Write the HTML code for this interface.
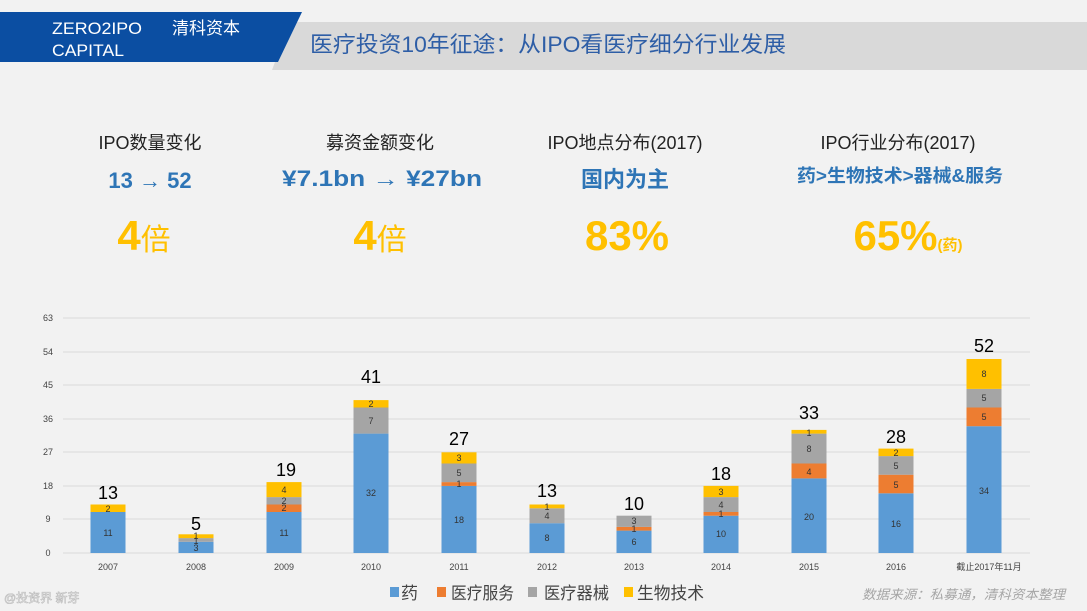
<!DOCTYPE html>
<html><head><meta charset="utf-8"><style>
html,body{margin:0;padding:0;background:#f2f2f2;}
svg{display:block;font-family:"Liberation Sans","Noto Sans CJK SC",sans-serif;}
.bl{font-size:9px;fill:#333;text-anchor:middle}
.tot{font-size:18px;fill:#000;text-anchor:middle}
.ax{font-size:9px;fill:#444;text-anchor:middle}
</style></head><body>
<svg width="1087" height="611" viewBox="0 0 1087 611">
<rect width="1087" height="611" fill="#f2f2f2"/>
<polygon points="290,22 1087,22 1087,70 272,70" fill="#d9d9d9"/>
<polygon points="0,12 302,12 278,62 0,62" fill="#0b4ea2"/>
<text x="52" y="34" font-size="17" fill="#fff" textLength="90" lengthAdjust="spacingAndGlyphs">ZERO2IPO</text>
<text x="172" y="34" font-size="17" fill="#fff">清科资本</text>
<text x="52" y="56" font-size="17" fill="#fff" textLength="72" lengthAdjust="spacingAndGlyphs">CAPITAL</text>
<text x="310" y="52" font-size="22" fill="#2e5ea6" textLength="476" lengthAdjust="spacingAndGlyphs">医疗投资10年征途：从IPO看医疗细分行业发展</text>

<g text-anchor="middle">
<text x="150" y="149" font-size="18" fill="#222">IPO数量变化</text>
<text x="380" y="149" font-size="18" fill="#222">募资金额变化</text>
<text x="625" y="149" font-size="18" fill="#222">IPO地点分布(2017)</text>
<text x="898" y="149" font-size="18" fill="#222">IPO行业分布(2017)</text>
<text x="150" y="188" font-size="22" font-weight="bold" fill="#2e75b6">13 → 52</text>
<text x="382" y="186" font-size="22" font-weight="bold" fill="#2e75b6" textLength="200" lengthAdjust="spacingAndGlyphs">¥7.1bn → ¥27bn</text>
<text x="625" y="187" font-size="22" font-weight="bold" fill="#2e75b6">国内为主</text>
<text x="900" y="182" font-size="18" font-weight="bold" fill="#2e75b6" textLength="206" lengthAdjust="spacingAndGlyphs">药&gt;生物技术&gt;器械&amp;服务</text>
<text x="144" y="250" font-size="42" font-weight="bold" fill="#ffc000">4<tspan font-size="30" font-weight="normal">倍</tspan></text>
<text x="380" y="250" font-size="42" font-weight="bold" fill="#ffc000">4<tspan font-size="30" font-weight="normal">倍</tspan></text>
<text x="627" y="250" font-size="42" font-weight="bold" fill="#ffc000">83%</text>
<text x="908" y="250" font-size="42" font-weight="bold" fill="#ffc000">65%<tspan font-size="15">(药)</tspan></text>
</g>

<g stroke="#d9d9d9" stroke-width="1">
<line x1="63" y1="318" x2="1030" y2="318"/><line x1="63" y1="352" x2="1030" y2="352"/>
<line x1="63" y1="385" x2="1030" y2="385"/><line x1="63" y1="419" x2="1030" y2="419"/>
<line x1="63" y1="452" x2="1030" y2="452"/><line x1="63" y1="486" x2="1030" y2="486"/>
<line x1="63" y1="519" x2="1030" y2="519"/><line x1="63" y1="553" x2="1030" y2="553"/>
</g>
<g font-size="9" fill="#444" text-anchor="middle">
<text x="48" y="321">63</text><text x="48" y="355">54</text><text x="48" y="388">45</text>
<text x="48" y="422">36</text><text x="48" y="455">27</text><text x="48" y="489">18</text>
<text x="48" y="522">9</text><text x="48" y="556">0</text>
</g>

<g>
<rect x="90.5" y="512" width="35" height="41" fill="#5b9bd5"/>
<rect x="90.5" y="504.5" width="35" height="7.5" fill="#ffc000"/>
<text class="bl" x="108" y="536">11</text><text class="bl" x="108" y="512">2</text>
<text class="tot" x="108" y="499">13</text>
<rect x="178.5" y="541.8" width="35" height="11.2" fill="#5b9bd5"/>
<rect x="178.5" y="538.1" width="35" height="3.7" fill="#a5a5a5"/>
<rect x="178.5" y="534.3" width="35" height="3.8" fill="#ffc000"/>
<text class="bl" x="196" y="551">3</text><text class="bl" x="196" y="544">1</text><text class="bl" x="196" y="539">1</text>
<text class="tot" x="196" y="530">5</text>
<rect x="266.5" y="512" width="35" height="41" fill="#5b9bd5"/>
<rect x="266.5" y="504.5" width="35" height="7.5" fill="#ed7d31"/>
<rect x="266.5" y="497.1" width="35" height="7.4" fill="#a5a5a5"/>
<rect x="266.5" y="482.1" width="35" height="15" fill="#ffc000"/>
<text class="bl" x="284" y="536">11</text><text class="bl" x="284" y="511">2</text><text class="bl" x="284" y="504">2</text><text class="bl" x="284" y="493">4</text>
<text class="tot" x="286" y="476">19</text>
<rect x="353.5" y="433.6" width="35" height="119.4" fill="#5b9bd5"/>
<rect x="353.5" y="407.5" width="35" height="26.1" fill="#a5a5a5"/>
<rect x="353.5" y="400.1" width="35" height="7.4" fill="#ffc000"/>
<text class="bl" x="371" y="496">32</text><text class="bl" x="371" y="424">7</text><text class="bl" x="371" y="407">2</text>
<text class="tot" x="371" y="383">41</text>
<rect x="441.5" y="485.9" width="35" height="67.1" fill="#5b9bd5"/>
<rect x="441.5" y="482.1" width="35" height="3.8" fill="#ed7d31"/>
<rect x="441.5" y="463.5" width="35" height="18.6" fill="#a5a5a5"/>
<rect x="441.5" y="452.3" width="35" height="11.2" fill="#ffc000"/>
<text class="bl" x="459" y="523">18</text><text class="bl" x="459" y="487">1</text><text class="bl" x="459" y="476">5</text><text class="bl" x="459" y="461">3</text>
<text class="tot" x="459" y="445">27</text>
<rect x="529.5" y="523.2" width="35" height="29.8" fill="#5b9bd5"/>
<rect x="529.5" y="508.3" width="35" height="14.9" fill="#a5a5a5"/>
<rect x="529.5" y="504.5" width="35" height="3.8" fill="#ffc000"/>
<text class="bl" x="547" y="541">8</text><text class="bl" x="547" y="519">4</text><text class="bl" x="547" y="510">1</text>
<text class="tot" x="547" y="497">13</text>
<rect x="616.5" y="530.6" width="35" height="22.4" fill="#5b9bd5"/>
<rect x="616.5" y="526.9" width="35" height="3.7" fill="#ed7d31"/>
<rect x="616.5" y="515.7" width="35" height="11.2" fill="#a5a5a5"/>
<text class="bl" x="634" y="545">6</text><text class="bl" x="634" y="532">1</text><text class="bl" x="634" y="524">3</text>
<text class="tot" x="634" y="510">10</text>
<rect x="703.5" y="515.7" width="35" height="37.3" fill="#5b9bd5"/>
<rect x="703.5" y="512" width="35" height="3.7" fill="#ed7d31"/>
<rect x="703.5" y="497.1" width="35" height="14.9" fill="#a5a5a5"/>
<rect x="703.5" y="485.9" width="35" height="11.2" fill="#ffc000"/>
<text class="bl" x="721" y="537">10</text><text class="bl" x="721" y="517">1</text><text class="bl" x="721" y="508">4</text><text class="bl" x="721" y="495">3</text>
<text class="tot" x="721" y="480">18</text>
<rect x="791.5" y="478.4" width="35" height="74.6" fill="#5b9bd5"/>
<rect x="791.5" y="463.5" width="35" height="14.9" fill="#ed7d31"/>
<rect x="791.5" y="433.6" width="35" height="29.9" fill="#a5a5a5"/>
<rect x="791.5" y="429.9" width="35" height="3.7" fill="#ffc000"/>
<text class="bl" x="809" y="520">20</text><text class="bl" x="809" y="475">4</text><text class="bl" x="809" y="452">8</text><text class="bl" x="809" y="436">1</text>
<text class="tot" x="809" y="419">33</text>
<rect x="878.5" y="493.3" width="35" height="59.7" fill="#5b9bd5"/>
<rect x="878.5" y="474.7" width="35" height="18.6" fill="#ed7d31"/>
<rect x="878.5" y="456.1" width="35" height="18.6" fill="#a5a5a5"/>
<rect x="878.5" y="448.6" width="35" height="7.5" fill="#ffc000"/>
<text class="bl" x="896" y="527">16</text><text class="bl" x="896" y="488">5</text><text class="bl" x="896" y="469">5</text><text class="bl" x="896" y="456">2</text>
<text class="tot" x="896" y="443">28</text>
<rect x="966.5" y="426.2" width="35" height="126.8" fill="#5b9bd5"/>
<rect x="966.5" y="407.5" width="35" height="18.7" fill="#ed7d31"/>
<rect x="966.5" y="388.9" width="35" height="18.6" fill="#a5a5a5"/>
<rect x="966.5" y="359" width="35" height="29.9" fill="#ffc000"/>
<text class="bl" x="984" y="494">34</text><text class="bl" x="984" y="420">5</text><text class="bl" x="984" y="401">5</text><text class="bl" x="984" y="377">8</text>
<text class="tot" x="984" y="352">52</text>
</g>

<g class="ax">
<text class="ax" x="108" y="570">2007</text><text class="ax" x="196" y="570">2008</text>
<text class="ax" x="284" y="570">2009</text><text class="ax" x="371" y="570">2010</text>
<text class="ax" x="459" y="570">2011</text><text class="ax" x="547" y="570">2012</text>
<text class="ax" x="634" y="570">2013</text><text class="ax" x="721" y="570">2014</text>
<text class="ax" x="809" y="570">2015</text><text class="ax" x="896" y="570">2016</text>
<text class="ax" x="989" y="570">截止2017年11月</text>
</g>

<g font-size="17" fill="#444">
<rect x="390" y="587" width="9" height="10" fill="#5b9bd5"/><text x="401" y="599">药</text>
<rect x="437" y="587" width="9" height="10" fill="#ed7d31"/><text x="451" y="599" textLength="63" lengthAdjust="spacingAndGlyphs">医疗服务</text>
<rect x="528" y="587" width="9" height="10" fill="#a5a5a5"/><text x="544" y="599" textLength="65" lengthAdjust="spacingAndGlyphs">医疗器械</text>
<rect x="624" y="587" width="9" height="10" fill="#ffc000"/><text x="637" y="599" textLength="67" lengthAdjust="spacingAndGlyphs">生物技术</text>
</g>
<text x="862" y="599" font-size="13" font-style="italic" fill="#a6a6a6" textLength="203" lengthAdjust="spacingAndGlyphs">数据来源：私募通，清科资本整理</text>
<text x="4" y="602" font-size="12" fill="#fff" stroke="#bbb" stroke-width="0.6">@投资界 新芽</text>
</svg>
</body></html>
